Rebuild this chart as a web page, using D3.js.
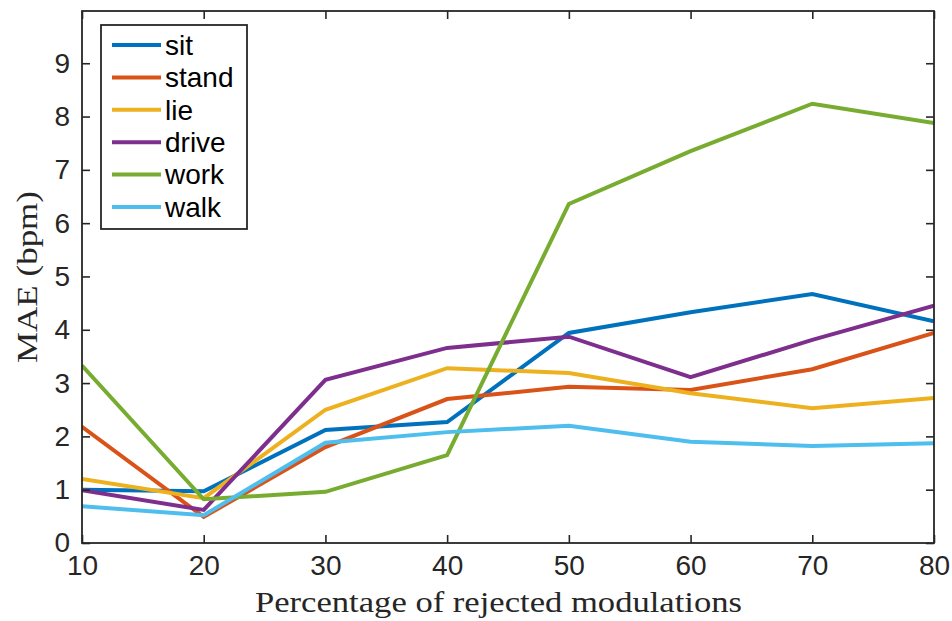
<!DOCTYPE html>
<html><head><meta charset="utf-8">
<script src="https://cdn.jsdelivr.net/npm/d3@7"></script>
<style>body{margin:0;background:#fff}svg{display:block}</style>
</head><body>
<svg id="c" width="952" height="621"></svg>
<script>
const xValues = [10, 20, 30, 40, 50, 60, 70, 80];
const seriesNames = ["sit", "stand", "lie", "drive", "work", "walk"];
const seriesColors = ["#0072BD", "#D95319", "#EDB120", "#7E2F8E", "#77AC30", "#4DBEEE"];
const sit   = [1.00, 0.97, 2.12, 2.27, 3.94, 4.33, 4.67, 4.16];
const stand = [2.18, 0.49, 1.80, 2.70, 2.93, 2.87, 3.26, 3.94];
const lie   = [1.20, 0.84, 2.50, 3.28, 3.19, 2.81, 2.53, 2.72];
const drive = [0.99, 0.62, 3.06, 3.66, 3.87, 3.11, 3.81, 4.45];
const work  = [3.33, 0.82, 0.96, 1.65, 6.36, 7.35, 8.24, 7.88];
const walk  = [0.69, 0.52, 1.88, 2.08, 2.20, 1.90, 1.82, 1.87];
const seriesValues = [sit, stand, lie, drive, work, walk];
const xTicks = [10, 20, 30, 40, 50, 60, 70, 80];
const yTicks = [0, 1, 2, 3, 4, 5, 6, 7, 8, 9];
const xLabel = "Percentage of rejected modulations";
const yLabel = "MAE (bpm)";

const L = 82, R = 934, T = 11, B = 543;
const svg = d3.select("#c");
const x = d3.scaleLinear().domain([10, 80]).range([L, R]);
const y = d3.scaleLinear().domain([0, 9.98]).range([B, T]);
const axisColor = "#262626";
const tickFont = "'Liberation Sans', Arial, sans-serif";
const serifFont = "'Liberation Serif', 'DejaVu Serif', serif";

// series lines (clipped)
svg.append("clipPath").attr("id", "clip").append("rect")
  .attr("x", L).attr("y", T).attr("width", R - L).attr("height", B - T);
const line = d3.line().x((d, i) => x(xValues[i])).y(d => y(d));
const g = svg.append("g").attr("clip-path", "url(#clip)");
seriesValues.forEach((vals, k) => {
  g.append("path").datum(vals).attr("d", line)
    .attr("fill", "none").attr("stroke", seriesColors[k])
    .attr("stroke-width", 4).attr("stroke-linejoin", "miter");
});

// axes
const tl = 8;
const axB = svg.append("g").attr("transform", `translate(0,${B})`)
  .call(d3.axisBottom(x).tickValues(xTicks).tickSize(-tl).tickPadding(12).tickFormat(d3.format("d")));
const axT = svg.append("g").attr("transform", `translate(0,${T})`)
  .call(d3.axisTop(x).tickValues(xTicks).tickSize(-tl).tickFormat(""));
const axL = svg.append("g").attr("transform", `translate(${L},0)`)
  .call(d3.axisLeft(y).tickValues(yTicks).tickSize(-tl).tickPadding(12).tickFormat(d3.format("d")));
const axR = svg.append("g").attr("transform", `translate(${R},0)`)
  .call(d3.axisRight(y).tickValues(yTicks).tickSize(-tl).tickFormat(""));
[axB, axT, axL, axR].forEach(a => {
  a.select(".domain").remove();
  a.selectAll(".tick line").attr("stroke", axisColor).attr("stroke-width", 1.6);
  a.selectAll("text").attr("fill", axisColor).style("font-family", tickFont).style("font-size", "28px");
});
svg.append("rect").attr("x", L).attr("y", T).attr("width", R - L).attr("height", B - T)
  .attr("fill", "none").attr("stroke", axisColor).attr("stroke-width", 1.8);

// axis labels
svg.append("text").attr("x", 255).attr("y", 612)
  .attr("textLength", 487).attr("lengthAdjust", "spacingAndGlyphs")
  .style("font-family", serifFont).style("font-size", "29px")
  .attr("fill", axisColor).text(xLabel);
svg.append("text").attr("transform", `translate(37,${(T + B) / 2}) rotate(-90)`).attr("text-anchor", "middle")
  .attr("textLength", 172).attr("lengthAdjust", "spacingAndGlyphs")
  .style("font-family", serifFont).style("font-size", "29px")
  .attr("fill", axisColor).text(yLabel);

// legend
const lg = svg.append("g");
lg.append("rect").attr("x", 101).attr("y", 25).attr("width", 146).attr("height", 204)
  .attr("fill", "#fff").attr("stroke", axisColor).attr("stroke-width", 1.8);
const rowY = d3.scalePoint().domain(seriesNames).range([45, 207]);
seriesNames.forEach((n, k) => {
  const yy = rowY(n);
  lg.append("line").attr("x1", 112).attr("x2", 161).attr("y1", yy).attr("y2", yy)
    .attr("stroke", seriesColors[k]).attr("stroke-width", 4);
  lg.append("text").attr("x", 165).attr("y", yy).attr("dy", "0.35em")
    .style("font-family", tickFont).style("font-size", "28px").attr("fill", "#000").text(n);
});
</script>
</body></html>
